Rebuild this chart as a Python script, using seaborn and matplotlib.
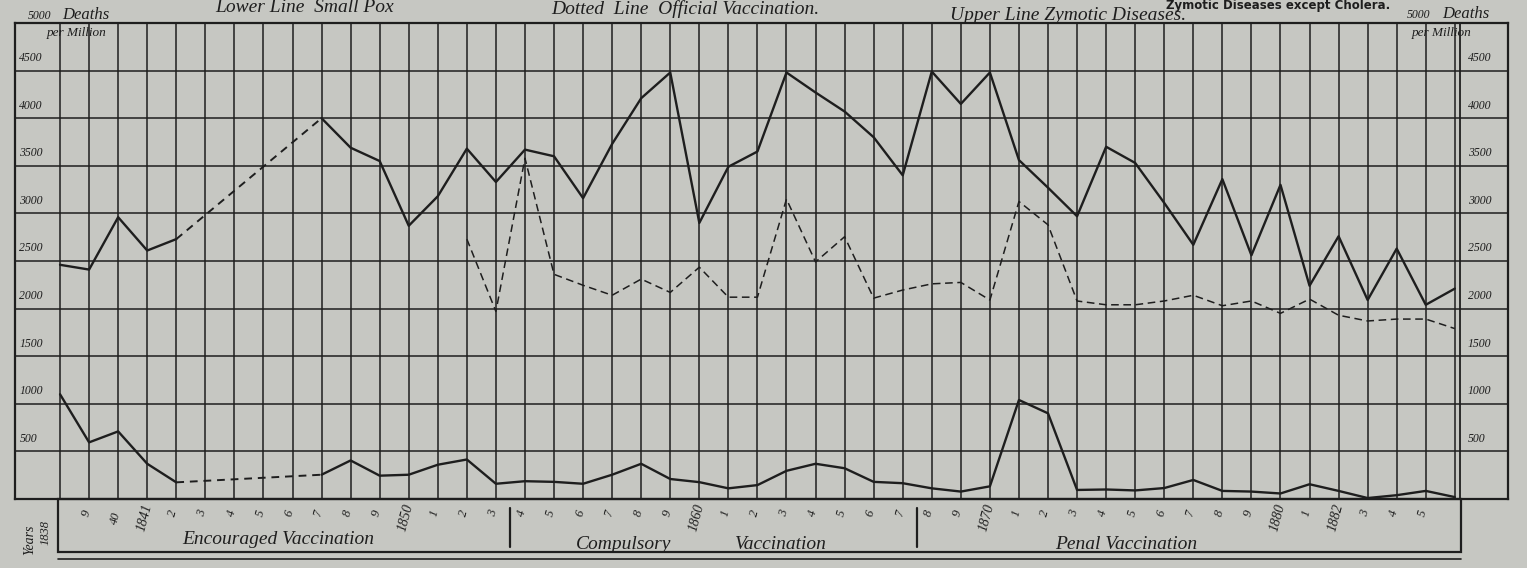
import numpy as np
import pandas as pd
import matplotlib
matplotlib.use("Agg")
import matplotlib.pyplot as plt
import matplotlib.transforms as mtrans
from matplotlib.patches import Rectangle
import seaborn as sns

nan = np.nan

# Jahre 1838 - 1886, Todesfaelle pro Million
years = list(range(1838, 1887))

zymotic = [2460, 2410, 2960, 2610, 2730, nan, nan, nan, nan,
           4000, 3690, 3550, 2870, 3180, 3680, 3330, 3670, 3600, 3160,
           3730, 4210, 4480, 2900, 3490, 3650, 4480, 4270, 4070, 3800,
           3400, 4490, 4150, 4480, 3560, 3270, 2970, 3700, 3530, 3110,
           2670, 3360, 2560, 3300, 2240, 2760, 2090, 2630, 2040, 2210]

smallpox = [1100, 595, 710, 370, 175, nan, nan, nan, nan,
            255, 405, 245, 255, 360, 415, 160, 187, 180, 160,
            255, 370, 210, 177, 112, 146, 296, 370, 323, 180,
            166, 112, 78, 133, 1040, 900, 95, 100, 90, 115,
            200, 85, 78, 58, 155, 85, 10, 40, 85, 20]

vaccination = [nan] * 14 + [2730, 1970, 3580, 2360, 2245, 2140, 2310, 2170,
                            2435, 2120, 2120, 3150, 2490, 2755, 2110, 2195,
                            2260, 2275, 2090, 3125, 2880, 2080, 2040, 2040,
                            2080, 2140, 2030, 2080, 1950, 2100, 1930, 1870,
                            1890, 1890, 1790]

year_labels = ["", "9", "40", "1841", "2", "3", "4", "5", "6", "7", "8", "9",
               "1850", "1", "2", "3", "4", "5", "6", "7", "8", "9",
               "1860", "1", "2", "3", "4", "5", "6", "7", "8", "9",
               "1870", "1", "2", "3", "4", "5", "6", "7", "8", "9",
               "1880", "1", "1882", "3", "4", "5", ""]

y_levels = [500, 1000, 1500, 2000, 2500, 3000, 3500, 4000, 4500]

periods = ["Encouraged Vaccination", "Compulsory", "Vaccination", "Penal Vaccination"]
period_x = [1845.5, 1857.4, 1862.8, 1874.7]
period_breaks = [1853.5, 1867.5]

PAPER = "#c6c7c2"
INK = "#1e1e1e"
SERIF = ["Liberation Serif", "DejaVu Serif"]

sns.set_theme(style="white")
plt.rcParams["font.family"] = SERIF
plt.rcParams["font.style"] = "italic"

fig = plt.figure(figsize=(15.27, 5.68), dpi=100, facecolor=PAPER)
W, H = 1527, 568
ax = fig.add_axes([15 / W, (H - 499) / H, (1508 - 15) / W, (499 - 23) / H])
ax.set_facecolor(PAPER)
ax.set_xlim(1836.45, 1887.83)
ax.set_ylim(0, 5000)

# Raster
ax.vlines(years, 0, 5000, colors=INK, lw=1.1, zorder=1)
ax.vlines([1886.17], 0, 5000, colors=INK, lw=1.3, zorder=1)
ax.hlines(y_levels, 1836.45, 1887.83, colors=INK, lw=1.1, zorder=1)
for s in ax.spines.values():
    s.set_color(INK)
    s.set_linewidth(1.6)
ax.set_xticks([])
ax.set_yticks([])


def draw_series(values, lw, style):
    df = pd.DataFrame({"year": years, "value": values})
    ok = df["value"].notna()
    run = (ok != ok.shift()).cumsum()
    for _, seg in df[ok].groupby(run[ok]):
        sns.lineplot(data=seg, x="year", y="value", ax=ax, color=INK, lw=lw,
                     linestyle=style, estimator=None, legend=False, zorder=3)
    # Luecken in den Daten gestrichelt ueberbruecken
    idx = np.flatnonzero(ok.to_numpy())
    for a, b in zip(idx[:-1], idx[1:]):
        if b - a > 1:
            sns.lineplot(data=df.iloc[[a, b]], x="year", y="value", ax=ax,
                         color=INK, lw=1.4, linestyle=(0, (4, 3)),
                         estimator=None, legend=False, zorder=3)


draw_series(zymotic, 1.7, "-")
draw_series(smallpox, 1.7, "-")
draw_series(vaccination, 1.1, (0, (5, 3)))
ax.set_xlabel("")
ax.set_ylabel("")

# Skalen links / rechts
for v in y_levels:
    ax.text(1836.6, v + 70, str(v), fontsize=8.5, color=INK, ha="left", va="bottom")
    ax.text(1886.45, v + 70, str(v), fontsize=8.5, color=INK, ha="left", va="bottom")

fig.text(28 / W, 1 - 16 / H, "5000", fontsize=8.5, color=INK, va="center")
fig.text(62 / W, 1 - 15 / H, "Deaths", fontsize=12, color=INK, va="center")
fig.text(47 / W, 1 - 33 / H, "per Million", fontsize=9.5, color=INK, va="center")
fig.text(1407 / W, 1 - 15 / H, "5000", fontsize=8.5, color=INK, va="center")
fig.text(1442 / W, 1 - 14 / H, "Deaths", fontsize=12, color=INK, va="center")
fig.text(1412 / W, 1 - 33 / H, "per Million", fontsize=9.5, color=INK, va="center")

# Titel
fig.text(305 / W, 1 - 7 / H, "Lower Line  Small Pox", fontsize=14, color=INK,
         ha="center", va="center")
fig.text(685 / W, 1 - 9 / H, "Dotted  Line  Official Vaccination.", fontsize=14,
         color=INK, ha="center", va="center")
fig.text(1068 / W, 1 - 15 / H, "Upper Line Zymotic Diseases.", fontsize=14,
         color=INK, ha="center", va="center")
fig.text(1390 / W, 1 - 5 / H, "Zymotic Diseases except Cholera.", fontsize=8.5,
         color=INK, ha="right", va="center", family="DejaVu Sans",
         style="normal", weight="bold")

# Jahresleiste unten
trans = mtrans.blended_transform_factory(ax.transData, ax.transAxes)
ax.add_patch(Rectangle((1837.93, -0.111), 1886.2 - 1837.93, 0.111, fill=False,
                       ec=INK, lw=1.6, transform=trans, clip_on=False))
ax.plot([1837.93, 1886.2], [-0.125, -0.125], color=INK, lw=1.2,
        transform=trans, clip_on=False)
for xb in period_breaks:
    ax.plot([xb, xb], [-0.018, -0.1], color=INK, lw=1.6, transform=trans,
            clip_on=False)
for yr, lab in zip(years, year_labels):
    if lab:
        ax.text(yr - 0.1, -0.04 if len(lab) > 1 else -0.03, lab,
                fontsize=10 if len(lab) > 2 else 9,
                color=INK, rotation=75, ha="center", va="center",
                transform=trans, clip_on=False)
ax.text(1836.95, -0.085, "Years", fontsize=10, color=INK, rotation=90,
        ha="center", va="center", transform=trans, clip_on=False)
ax.text(1837.5, -0.07, "1838", fontsize=9, color=INK, rotation=90,
        ha="center", va="center", transform=trans, clip_on=False)
for px, lab in zip(period_x, periods):
    ax.text(px, -0.085 if lab.startswith("Enc") else -0.095, lab, fontsize=14,
            color=INK, ha="center", va="center", transform=trans, clip_on=False)

fig.savefig("out.png", dpi=100, facecolor=PAPER)
